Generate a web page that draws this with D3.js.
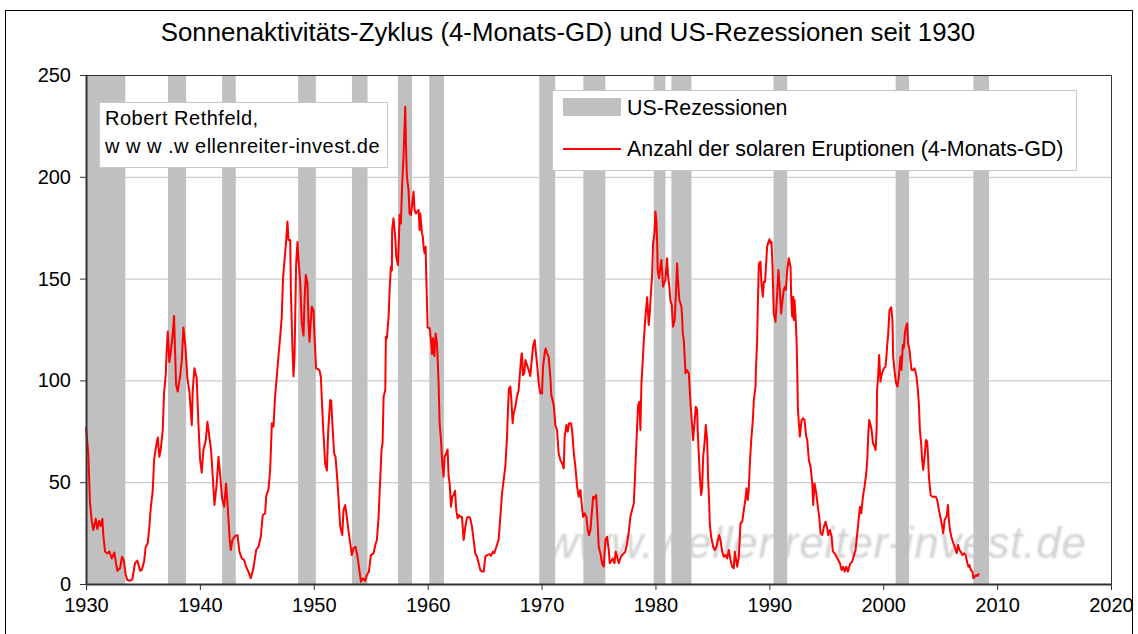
<!DOCTYPE html>
<html>
<head>
<meta charset="utf-8">
<script src="https://cdn.jsdelivr.net/npm/d3@7"></script>
<style>
  body { margin: 0; background: #fff; }
  svg { display: block; font-family: "Liberation Sans", Arial, sans-serif; }
</style>
</head>
<body>
<div id="chart"></div>
<script>
// solar eruptions, 4-month moving average (decimal year / value)
var years = [
  1930.0,1930.2,1930.35,1930.5,1930.64,1930.85,1931.0,1931.14,1931.29,1931.44,1931.52,1931.67,1931.87,
  1932.05,1932.26,1932.49,1932.61,1932.75,1932.99,1933.16,1933.31,1933.49,1933.63,1933.87,1934.07,1934.3,
  1934.51,1934.75,1934.89,1935.1,1935.24,1935.42,1935.57,1935.68,1935.86,1935.98,1936.15,1936.3,1936.44,
  1936.56,1936.74,1936.85,1937.0,1937.09,1937.18,1937.32,1937.47,1937.62,1937.73,1937.91,1938.05,1938.26,
  1938.41,1938.55,1938.73,1938.9,1939.08,1939.29,1939.37,1939.52,1939.72,1939.87,1940.02,1940.16,1940.31,
  1940.52,1940.66,1940.81,1940.98,1941.13,1941.28,1941.48,1941.63,1941.78,1941.95,1942.13,1942.3,1942.45,
  1942.6,1942.71,1942.86,1943.09,1943.3,1943.47,1943.68,1943.88,1944.06,1944.26,1944.47,1944.7,1944.94,
  1945.14,1945.35,1945.52,1945.73,1945.82,1946.02,1946.17,1946.32,1946.46,1946.61,1946.75,1946.9,1947.05,
  1947.19,1947.3,1947.4,1947.58,1947.69,1947.78,1947.93,1947.99,1948.13,1948.22,1948.31,1948.45,1948.57,
  1948.66,1948.8,1948.95,1949.1,1949.19,1949.3,1949.45,1949.54,1949.62,1949.74,1949.83,1949.98,1950.04,
  1950.12,1950.2,1950.5,1950.62,1950.8,1951.0,1951.15,1951.27,1951.44,1951.53,1951.65,1951.79,1951.91,
  1952.09,1952.2,1952.32,1952.5,1952.61,1952.76,1952.9,1953.08,1953.2,1953.34,1953.49,1953.67,1953.84,
  1953.96,1954.14,1954.31,1954.52,1954.66,1954.84,1955.01,1955.25,1955.4,1955.54,1955.69,1955.83,1955.95,
  1956.04,1956.13,1956.28,1956.33,1956.42,1956.57,1956.66,1956.77,1956.86,1956.88,1957.0,1957.15,1957.24,
  1957.39,1957.5,1957.53,1957.65,1957.74,1957.88,1958.03,1958.12,1958.18,1958.32,1958.41,1958.53,1958.62,
  1958.76,1958.85,1958.97,1959.06,1959.2,1959.29,1959.35,1959.5,1959.58,1959.64,1959.73,1959.82,1959.88,
  1960.0,1960.17,1960.29,1960.38,1960.46,1960.58,1960.7,1960.82,1960.96,1961.05,1961.17,1961.28,1961.4,
  1961.49,1961.64,1961.75,1961.84,1961.93,1962.05,1962.16,1962.28,1962.4,1962.51,1962.63,1962.75,1962.87,
  1963.01,1963.16,1963.31,1963.45,1963.6,1963.74,1963.89,1964.04,1964.18,1964.33,1964.48,1964.62,1964.77,
  1964.92,1965.06,1965.21,1965.44,1965.56,1965.74,1965.85,1966.03,1966.23,1966.38,1966.53,1966.67,1966.82,
  1966.97,1967.05,1967.14,1967.26,1967.35,1967.46,1967.55,1967.7,1967.84,1967.99,1968.08,1968.23,1968.28,
  1968.37,1968.49,1968.58,1968.72,1968.87,1969.01,1969.25,1969.4,1969.51,1969.6,1969.75,1969.89,1970.04,
  1970.13,1970.27,1970.36,1970.48,1970.62,1970.77,1970.86,1971.07,1971.21,1971.36,1971.5,1971.65,1971.8,
  1971.95,1972.03,1972.18,1972.3,1972.41,1972.59,1972.68,1972.82,1972.97,1973.12,1973.26,1973.41,1973.56,
  1973.65,1973.79,1973.94,1974.06,1974.17,1974.29,1974.53,1974.64,1974.79,1974.9,1975.02,1975.17,1975.31,
  1975.46,1975.61,1975.75,1975.9,1975.99,1976.1,1976.25,1976.4,1976.51,1976.63,1976.78,1976.92,1977.07,
  1977.22,1977.36,1977.51,1977.66,1977.8,1977.95,1978.1,1978.18,1978.3,1978.39,1978.48,1978.6,1978.68,
  1978.77,1978.89,1978.98,1979.12,1979.27,1979.41,1979.5,1979.62,1979.71,1979.79,1979.91,1980.0,1980.08,
  1980.15,1980.2,1980.32,1980.43,1980.52,1980.67,1980.76,1980.87,1981.02,1981.1,1981.22,1981.31,1981.43,
  1981.54,1981.69,1981.81,1981.9,1981.98,1982.1,1982.28,1982.34,1982.4,1982.49,1982.64,1982.78,1982.93,
  1983.08,1983.31,1983.43,1983.54,1983.66,1983.72,1983.9,1984.01,1984.1,1984.19,1984.31,1984.42,1984.54,
  1984.63,1984.72,1984.77,1984.89,1985.07,1985.21,1985.36,1985.48,1985.59,1985.71,1985.86,1986.0,1986.15,
  1986.3,1986.44,1986.59,1986.74,1986.88,1986.97,1987.18,1987.32,1987.47,1987.62,1987.76,1987.91,1988.0,
  1988.11,1988.2,1988.29,1988.41,1988.55,1988.64,1988.79,1988.82,1988.93,1988.99,1989.08,1989.22,1989.31,
  1989.43,1989.52,1989.63,1989.72,1989.81,1989.89,1990.01,1990.1,1990.19,1990.28,1990.39,1990.54,1990.69,
  1990.8,1990.92,1991.04,1991.16,1991.27,1991.36,1991.45,1991.57,1991.71,1991.86,1991.92,1992.01,1992.1,
  1992.15,1992.21,1992.3,1992.39,1992.45,1992.51,1992.68,1992.83,1992.98,1993.09,1993.24,1993.33,1993.47,
  1993.62,1993.77,1993.85,1993.97,1994.12,1994.26,1994.38,1994.5,1994.65,1994.79,1994.94,1995.08,1995.17,
  1995.32,1995.47,1995.58,1995.73,1995.9,1996.05,1996.2,1996.34,1996.49,1996.61,1996.75,1996.9,1997.02,
  1997.13,1997.28,1997.43,1997.57,1997.72,1997.87,1997.96,1998.07,1998.22,1998.36,1998.51,1998.6,1998.69,
  1998.77,1998.89,1998.98,1999.1,1999.24,1999.33,1999.42,1999.46,1999.55,1999.64,1999.76,1999.82,1999.9,
  2000.05,2000.2,2000.28,2000.34,2000.43,2000.55,2000.7,2000.81,2000.87,2001.02,2001.13,2001.25,2001.37,
  2001.52,2001.6,2001.72,2001.81,2001.9,2002.01,2002.1,2002.19,2002.31,2002.39,2002.48,2002.63,2002.75,
  2002.83,2002.92,2003.04,2003.13,2003.22,2003.33,2003.42,2003.51,2003.63,2003.75,2003.86,2003.92,2004.01,
  2004.16,2004.3,2004.45,2004.6,2004.74,2004.89,2005.04,2005.18,2005.27,2005.39,2005.56,2005.68,2005.77,
  2005.86,2005.98,2006.07,2006.16,2006.27,2006.36,2006.45,2006.57,2006.69,2006.8,2006.95,2007.1,2007.24,
  2007.39,2007.48,2007.57,2007.68,2007.83,2007.92,2008.03,2008.15,2008.27,2008.41
];
var eruptions = [
  77,64,40,31,26.5,32,27,31,28.5,32,24,16,15,
  16,12.5,15.5,11,6.5,7.7,13.4,11.8,4.4,2,1.6,2.3,10.2,
  11.5,6.5,6.9,11,18.3,20,28.5,37,46,61,67.5,72,62.5,
  66,75.6,93.6,102.7,115,124,109,115,123,131.6,97.7,94.5,101.8,
  110,126,116.6,101,94.5,78,95,106,101,79,61,54.7,65.8,
  70.7,79.7,73.2,65.8,52.7,38.8,49.4,62.5,53.5,42,38,49.4,37.2,
  23.2,16.7,21.6,23.6,24,15.9,12.6,11.8,8.5,6.1,2.8,7.7,16.7,
  18.3,23.2,33.9,34.7,42.9,46.5,56,78.9,77.3,92.8,101.8,112,121.5,
  131.3,150,157,169,178,169,169,144,115,102,112,157,168,
  159,149,128,122,139.5,151.8,147.7,128,119,129.7,136.2,134.6,124.8,
  115,106,105,101.8,79,59,55.7,75.6,90.4,90,77,64,62.5,
  49.4,39.6,28.2,24,36.3,38.8,33,24.9,20,14.2,17.5,18.3,13.4,
  8.5,1.1,2.8,1.5,4.4,6,14.2,15,19,21.6,33,51,66,
  69,92,95.3,121.5,120.7,131.3,144.4,155.9,154,174,179.6,170.6,160.8,
  156.7,173.9,181.2,177.1,193.5,209.9,234.4,209.9,200,193.5,182,181.2,185.3,
  192.7,183.7,182,182.9,183.7,173.9,182,172.2,170.6,165.7,162.4,165.7,150,
  126,125.6,119.8,113,120.7,112,123,118,98.6,79,70.7,59.3,52.7,
  62.5,64.2,66.1,52.7,49.4,38,42.9,43.7,45.8,36.3,32.3,33.9,33,
  33,21.6,28.2,32.6,33,32.3,28.2,21.6,15,13.4,10.2,6.9,6.1,
  6.1,13.4,14.2,14.7,13.8,15.9,15.1,18.3,21.6,33,44.5,51,57.6,
  72.4,85.5,96.1,97,90.4,79,83.8,87,92,95.3,101.8,112.5,113.3,
  102.6,103.5,110,107.6,105.1,102.2,116.6,119.8,113.3,108.4,98.6,93.6,93.6,
  106.7,113.3,115.7,113.3,111.7,101.8,92.8,87.9,78.1,75.6,64.2,60.9,59.3,
  56.8,72.4,78.1,74.8,78.9,78.9,75.6,65,57.6,47.8,42.9,46.2,37.2,
  33,34.7,33,26.5,24,26.5,42.9,42,43.7,33,18.3,15,10.2,
  8.5,21.6,23.2,16.7,10.2,11,12.6,10.2,15.9,13.4,10.2,12.6,14.2,
  15,15.9,20,25.7,33,36.3,39.6,49.4,65.8,77.3,87.9,89.5,75.6,
  98.6,110,119.8,131.3,140.8,127.2,133,144.4,151.8,167.3,172.2,182.9,178.8,
  167.3,154.2,150.1,155.9,159.1,146,147.7,149.3,160,151.8,146,139.5,137,
  126.4,129.7,144.4,157.5,149.3,139.5,136.2,131.3,123.1,119.8,103.5,105,103.5,
  88.7,70.7,78.9,87.1,85.5,74,52.7,43.7,47,62.5,69.1,78.1,70.7,
  51,39.6,29.8,23.2,18.3,16.7,18.3,21.6,24,21.6,15.9,13.4,14.2,
  12.6,16.7,11.8,8.5,7.7,15.9,8.5,13.4,29.8,30.6,36.3,42,47,
  41.3,47,59.3,70.7,80.5,90.4,97,105,119.8,137,157.5,158.3,147.7,
  141.1,148.5,148.5,157.5,165.7,167.3,169.3,167.3,168.1,155.9,132.9,128.8,142.8,
  154.2,144.4,132.9,139.5,144.4,146,144.4,154.2,160,155.9,141.1,131.3,141.1,
  129.7,139.5,131.3,119.8,105,85.5,72.4,80.5,81.4,80.5,72.4,70.7,60.9,
  57.6,49.4,38.8,49.4,44.5,38,33,24.9,24,28.2,30.6,27.3,24,
  26.5,23.2,15.9,15.1,13.4,11.8,10.2,6.9,8.5,6.1,8.5,6.1,8.5,
  10.2,11,14.2,16.7,24.9,33,38,34.7,42.9,47.8,54.4,60.9,74,
  80.5,78.1,75.6,69.1,67.5,65.8,75.6,95.3,101.8,112.5,99.4,101.8,103.5,
  105.9,106.7,111.7,116.6,122.3,134.6,135.9,129.7,111.7,103.5,98.6,96.9,101.8,
  111.7,105.1,117.4,116,123.1,126.4,128,118.2,115,110,105.1,105.1,105.9,
  104.3,101.8,95.3,88.7,75.6,69.1,60.9,56,62.5,70.7,69.9,64.2,52.7,
  43.7,42.9,42.9,42.9,41.3,36.3,32.3,28.2,24.9,31.4,33,38.8,31.4,
  26.5,23.2,21.6,20,18.3,16.7,15.1,19.2,16.7,15.9,14.2,15.1,14.2,
  10.2,8.5,9.3,6.9,6.1,2.8,3.6,4.4,3.9,5.2
];

// US recessions (start / end, decimal year)
var recessionStart = [1930.0, 1937.2, 1941.95, 1948.63, 1953.35, 1957.39, 1960.14, 1969.8, 1973.67, 1979.85, 1981.4, 1990.37, 2001.09, 2007.92];
var recessionEnd   = [1933.45, 1938.79, 1943.15, 1950.18, 1954.72, 1958.62, 1961.43, 1971.2, 1975.6, 1980.88, 1983.16, 1991.57, 2002.26, 2009.29];

var xTicks = [1930, 1940, 1950, 1960, 1970, 1980, 1990, 2000, 2010, 2020];
var yTicks = [0, 50, 100, 150, 200, 250];

var title = "Sonnenaktivitäts-Zyklus (4-Monats-GD) und US-Rezessionen seit 1930";
var legendLabels = ["US-Rezessionen", "Anzahl der solaren Eruptionen (4-Monats-GD)"];

var W = 1138, H = 634;
var plot = {left: 86, right: 1111, top: 75, bottom: 584};

var svg = d3.select("#chart").append("svg")
    .attr("width", W)
    .attr("height", H);

// outer chart frame
svg.append("rect")
    .attr("x", 5.5).attr("y", 10.5)
    .attr("width", 1127).attr("height", 640)
    .attr("fill", "#fff")
    .attr("stroke", "#000");

var x = d3.scaleLinear().domain([1930, 2020]).range([plot.left, plot.right]);
var y = d3.scaleLinear().domain([0, 250]).range([plot.bottom, plot.top]);

// blurred watermark
var defs = svg.append("defs");
defs.append("filter").attr("id", "soft")
  .append("feGaussianBlur").attr("stdDeviation", 1.2);

// gridlines
svg.append("g")
  .selectAll("line")
  .data(yTicks.filter(function(d) { return d > 0 && d < 250; }))
  .enter().append("line")
    .attr("x1", plot.left).attr("x2", plot.right)
    .attr("y1", function(d) { return y(d) + 0.5; })
    .attr("y2", function(d) { return y(d) + 0.5; })
    .attr("stroke", "#c0c0c0");

svg.append("text")
    .attr("x", 546).attr("y", 558)
    .attr("font-size", 44)
    .attr("font-style", "italic")
    .attr("letter-spacing", 0.8)
    .attr("fill", "#d2d2d2")
    .attr("filter", "url(#soft)")
    .text("www.wellenreiter-invest.de");

// recession bands
svg.append("g")
  .selectAll("rect")
  .data(recessionStart)
  .enter().append("rect")
    .attr("x", function(d) { return x(d); })
    .attr("width", function(d, i) { return x(recessionEnd[i]) - x(d); })
    .attr("y", plot.top)
    .attr("height", plot.bottom - plot.top)
    .attr("fill", "#c0c0c0");

// the line
var pts = years.map(function(d, i) { return [d, eruptions[i]]; });
svg.append("path")
    .datum(pts)
    .attr("fill", "none")
    .attr("stroke", "#ff0000")
    .attr("stroke-width", 2)
    .attr("stroke-linejoin", "round")
    .attr("d", d3.line()
        .x(function(d) { return x(d[0]); })
        .y(function(d) { return y(d[1]); }));

// plot border (top / right)
svg.append("path")
    .attr("d", "M" + plot.left + "," + (plot.top + 0.5) + "H" + (plot.right + 0.5) + "V" + plot.bottom)
    .attr("fill", "none")
    .attr("stroke", "#333");

// axes
var xAxis = svg.append("g")
    .attr("transform", "translate(0," + plot.bottom + ")")
    .call(d3.axisBottom(x).tickValues(xTicks).tickFormat(d3.format("d")).tickSize(6).tickSizeOuter(0));
var yAxis = svg.append("g")
    .attr("transform", "translate(" + plot.left + ",0)")
    .call(d3.axisLeft(y).tickValues(yTicks).tickSize(6).tickSizeOuter(0));

[xAxis, yAxis].forEach(function(a) {
  a.select(".domain").attr("stroke", "#333").attr("stroke-width", 2);
  a.selectAll(".tick line").attr("stroke", "#333");
  a.selectAll(".tick text")
    .attr("font-family", "Liberation Sans, Arial, sans-serif")
    .attr("font-size", 20)
    .attr("fill", "#000");
});
xAxis.selectAll(".tick text").attr("dy", "0.95em").attr("y", 9);
yAxis.selectAll(".tick text").attr("x", -15);

// title
svg.append("text")
    .attr("x", 568).attr("y", 41)
    .attr("text-anchor", "middle")
    .attr("font-size", 25.8)
    .text(title);

// author box
var note = svg.append("g");
note.append("rect")
    .attr("x", 99.5).attr("y", 102.5)
    .attr("width", 288).attr("height", 65)
    .attr("fill", "#fff")
    .attr("stroke", "#c8c8c8");
note.append("text")
    .attr("x", 105).attr("y", 125)
    .attr("font-size", 20).attr("letter-spacing", 0.5)
    .text("Robert Rethfeld,");
note.append("text")
    .attr("x", 105).attr("y", 153)
    .attr("font-size", 20).attr("letter-spacing", 0.5)
    .text("w w w .w ellenreiter-invest.de");

// legend
var legend = svg.append("g");
legend.append("rect")
    .attr("x", 552.5).attr("y", 90.5)
    .attr("width", 524).attr("height", 80)
    .attr("fill", "#fff")
    .attr("stroke", "#c8c8c8");
legend.append("rect")
    .attr("x", 563).attr("y", 98)
    .attr("width", 58).attr("height", 18)
    .attr("fill", "#c0c0c0");
legend.append("line")
    .attr("x1", 563).attr("x2", 621)
    .attr("y1", 149).attr("y2", 149)
    .attr("stroke", "#ff0000").attr("stroke-width", 2);
legend.selectAll("text.lg")
  .data(legendLabels)
  .enter().append("text")
    .attr("class", "lg")
    .attr("x", 627)
    .attr("y", function(d, i) { return 115 + i * 41; })
    .attr("font-size", 21.4)
    .text(function(d) { return d; });
</script>
</body>
</html>
